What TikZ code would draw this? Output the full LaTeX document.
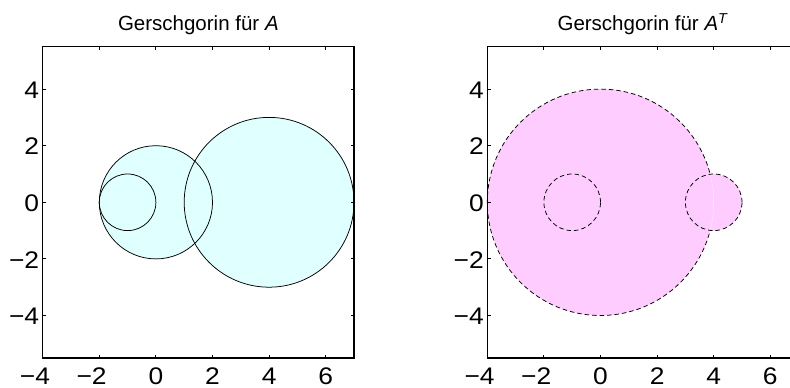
\documentclass[tikz,border=0pt]{standalone}
\usepackage{fontspec}
\setmainfont{Liberation Sans}
\newfontfamily\tickfont[FakeStretch=1.1]{Liberation Sans}
\definecolor{cyanfill}{RGB}{224,255,255}
\definecolor{pinkfill}{RGB}{255,204,255}
\newcommand{\mn}{\makebox[0pt][r]{−}}
\begin{document}
\begin{tikzpicture}[
  x=1pt,y=1pt,
  axbox/.style={line width=1.2pt},
  tickline/.style={line width=0.9pt},
  circline/.style={line width=0.75pt},
  dashcirc/.style={line width=0.75pt, dash pattern=on 4.5pt off 3pt},
  titletext/.style={anchor=base, inner sep=0pt, font=\fontsize{20.5pt}{24pt}\selectfont},
  ylab/.style={anchor=base east, inner sep=0pt, font=\tickfont\fontsize{24pt}{28pt}\selectfont},
  xlab/.style={anchor=base, inner sep=0pt, font=\tickfont\fontsize{24pt}{28pt}\selectfont},
]
\useasboundingbox (0,0) rectangle (790,388);
\clip (0,0) rectangle (790,388);
\fill[white] (0,0) rectangle (790,388);

% ---------------- left plot ----------------
\begin{scope}[shift={(155.9pt,185.7pt)}, x=28.3pt, y=28.3pt]
  \fill[cyanfill] (-1,0) circle[radius=1];
  \fill[cyanfill] (0,0) circle[radius=2];
  \fill[cyanfill] (4,0) circle[radius=3];
  \draw[circline] (-1,0) circle[radius=1];
  \draw[circline] (0,0) circle[radius=2];
  \draw[circline] (4,0) circle[radius=3];
  \foreach \xx in {-2,0,2,4,6} {
    \draw[tickline] (\xx,-5.5) -- ++(0,3.3pt);
    \draw[tickline] (\xx,5.5) -- ++(0,-3.3pt);
  }
  \foreach \yy in {-4,-2,0,2,4} {
    \draw[tickline] (-4,\yy) -- ++(3.3pt,0);
    \draw[tickline] (7,\yy) -- ++(-3.3pt,0);
  }
  \draw[axbox] (-4,-5.5) rectangle (7,5.5);
  \node[titletext] (tA) at (1.5,6.064) {Gerschgorin für \textit{A}};
  \node[ylab] (ly4) at ([xshift=-3.4pt,yshift=-9.3pt]-4,4) {4};
  \node[ylab] (ly2) at ([xshift=-3.4pt,yshift=-9.3pt]-4,2) {2};
  \node[ylab] (ly0) at ([xshift=-3.4pt,yshift=-9.3pt]-4,0) {0};
  \node[ylab] (lym2) at ([xshift=-3.4pt,yshift=-9.3pt]-4,-2) {−2};
  \node[ylab] (lym4) at ([xshift=-3.4pt,yshift=-9.3pt]-4,-4) {−4};
  \node[xlab] (lxm4) at ([yshift=-26.3pt]-4,-5.5) {\mn4};
  \node[xlab] (lxm2) at ([yshift=-26.3pt]-2,-5.5) {\mn2};
  \node[xlab] (lx0) at ([yshift=-26.3pt]0,-5.5) {0};
  \node[xlab] (lx2) at ([yshift=-26.3pt]2,-5.5) {2};
  \node[xlab] (lx4) at ([yshift=-26.3pt]4,-5.5) {4};
  \node[xlab] (lx6) at ([yshift=-26.3pt]6,-5.5) {6};
\end{scope}

% ---------------- right plot ----------------
\begin{scope}[shift={(600.5pt,185.7pt)}, x=28.3pt, y=28.3pt]
  \fill[pinkfill] (0,0) circle[radius=4];
  \draw[dashcirc] (0,0) circle[radius=4];
  \fill[pinkfill] (-1,0) circle[radius=1];
  \fill[pinkfill] (4,0) circle[radius=1];
  \draw[white!55!pinkfill, line width=0.4pt] (-14.36:4) arc[start angle=-14.36, end angle=14.36, radius=4];
  \draw[dashcirc] (-1,0) circle[radius=1];
  \draw[dashcirc] (4,0) circle[radius=1];
  \foreach \xx in {-2,0,2,4,6} {
    \draw[tickline] (\xx,-5.5) -- ++(0,3.3pt);
    \draw[tickline] (\xx,5.5) -- ++(0,-3.3pt);
  }
  \foreach \yy in {-4,-2,0,2,4} {
    \draw[tickline] (-4,\yy) -- ++(3.3pt,0);
    \draw[tickline] (7,\yy) -- ++(-3.3pt,0);
  }
  \draw[axbox] (-4,-5.5) rectangle (7,5.5);
  \node[titletext] (tAT) at (1.5,6.064) {Gerschgorin für \textit{A}\textsuperscript{\textit{T}}};
  \node[ylab] (ry4) at ([xshift=-3.4pt,yshift=-9.3pt]-4,4) {4};
  \node[ylab] (ry2) at ([xshift=-3.4pt,yshift=-9.3pt]-4,2) {2};
  \node[ylab] (ry0) at ([xshift=-3.4pt,yshift=-9.3pt]-4,0) {0};
  \node[ylab] (rym2) at ([xshift=-3.4pt,yshift=-9.3pt]-4,-2) {−2};
  \node[ylab] (rym4) at ([xshift=-3.4pt,yshift=-9.3pt]-4,-4) {−4};
  \node[xlab] (rxm4) at ([yshift=-26.3pt]-4,-5.5) {\mn4};
  \node[xlab] (rxm2) at ([yshift=-26.3pt]-2,-5.5) {\mn2};
  \node[xlab] (rx0) at ([yshift=-26.3pt]0,-5.5) {0};
  \node[xlab] (rx2) at ([yshift=-26.3pt]2,-5.5) {2};
  \node[xlab] (rx4) at ([yshift=-26.3pt]4,-5.5) {4};
  \node[xlab] (rx6) at ([yshift=-26.3pt]6,-5.5) {6};
\end{scope}
\end{tikzpicture}
\end{document}
